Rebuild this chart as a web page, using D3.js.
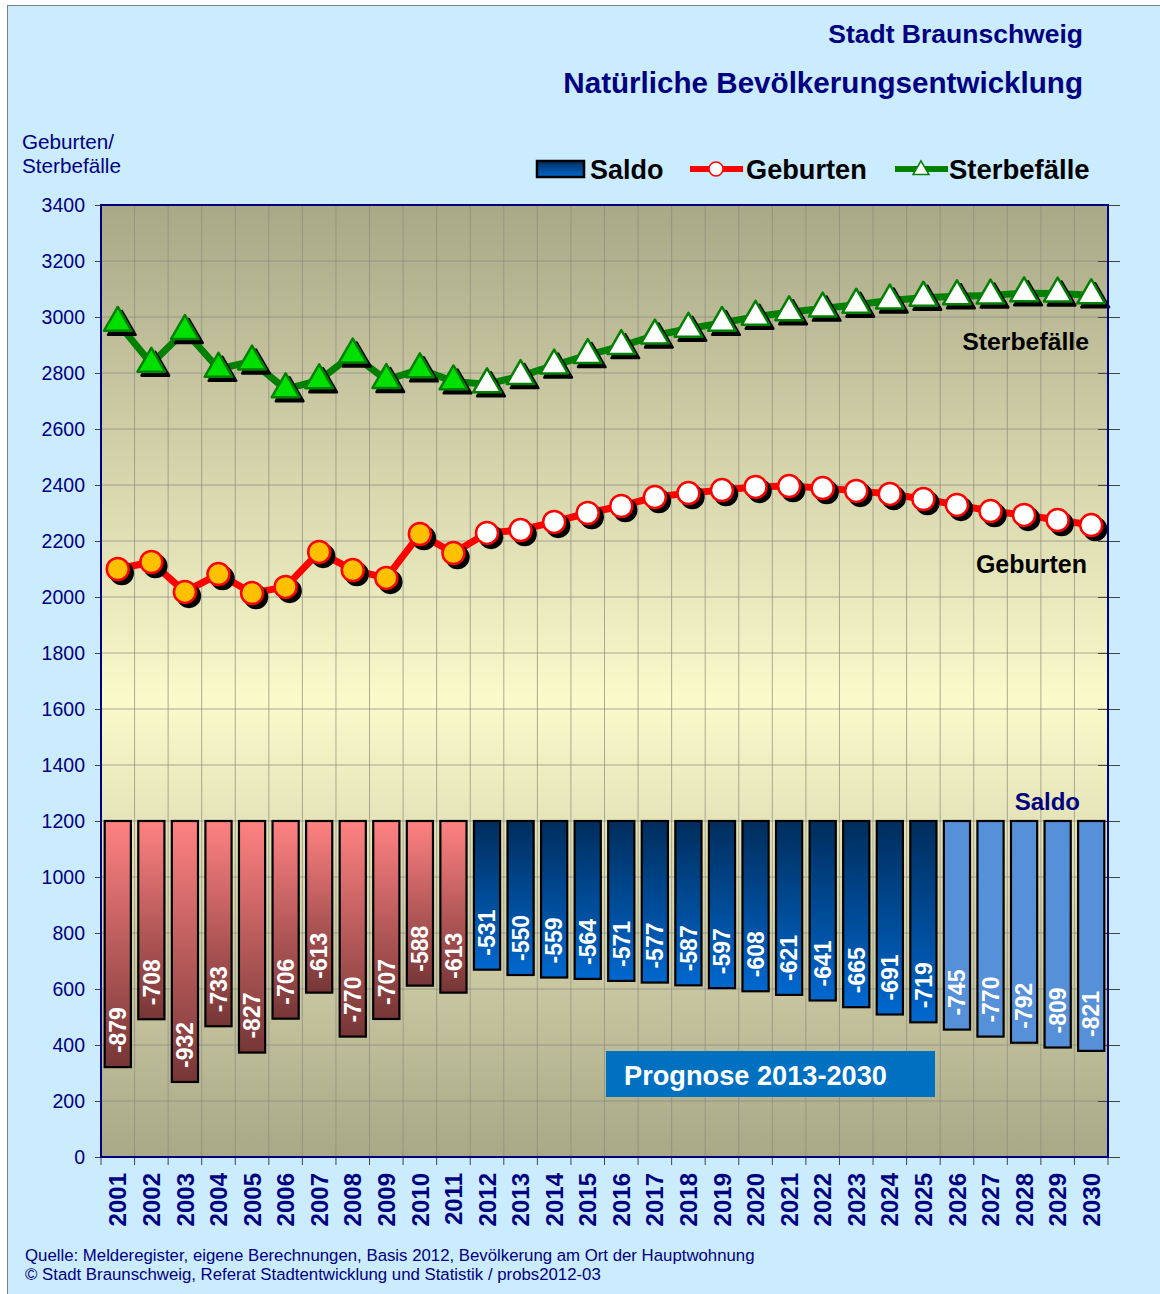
<!DOCTYPE html>
<html>
<head>
<meta charset="utf-8">
<script src="https://cdn.jsdelivr.net/npm/d3@7"></script>
<style>
  body { margin: 0; background: #fff; }
  svg { display: block; font-family: "Liberation Sans", Arial, sans-serif; }
</style>
</head>
<body>
<div id="chart"></div>
<script>
var years = ["2001","2002","2003","2004","2005","2006","2007","2008","2009","2010",
  "2011","2012","2013","2014","2015","2016","2017","2018","2019","2020",
  "2021","2022","2023","2024","2025","2026","2027","2028","2029","2030"];
var saldo = [-879,-708,-932,-733,-827,-706,-613,-770,-707,-588,
  -613,-531,-550,-559,-564,-571,-577,-587,-597,-608,
  -621,-641,-665,-691,-719,-745,-770,-792,-809,-821];
var geburten = [2100,2125,2018,2082,2014,2036,2161,2096,2068,2225,
  2157,2229,2239,2268,2300,2325,2357,2371,2382,2393,
  2396,2389,2379,2368,2350,2329,2307,2293,2275,2257];
var sterbefaelle = [2979,2833,2950,2815,2841,2742,2774,2866,2775,2813,
  2770,2760,2789,2827,2864,2896,2934,2958,2979,3001,
  3017,3030,3044,3059,3069,3074,3077,3085,3084,3078];
var yTicks = [0,200,400,600,800,1000,1200,1400,1600,1800,2000,2200,2400,2600,2800,3000,3200,3400];
var saldoBase = 1200;
var lastActual = "2011";
var lastDarkBlue = "2025";

var W = 1160, H = 1294;
var margin = { top: 205, right: 52, bottom: 137, left: 101 },
    width = W - margin.left - margin.right,
    height = H - margin.top - margin.bottom;
var navy = "#000080";

var root = d3.select("#chart").append("svg")
    .attr("width", W).attr("height", H);

var defs = root.append("defs");
var bg = defs.append("linearGradient").attr("id", "plotbg")
    .attr("x1", 0).attr("y1", 0).attr("x2", 0).attr("y2", 1);
bg.append("stop").attr("offset", "0%").attr("stop-color", "#a9a887");
bg.append("stop").attr("offset", "52%").attr("stop-color", "#fbfacb");
bg.append("stop").attr("offset", "100%").attr("stop-color", "#a9a887");

var gRed = defs.append("linearGradient").attr("id", "barRed")
    .attr("x1", 0).attr("y1", 0).attr("x2", 0).attr("y2", 1);
gRed.append("stop").attr("offset", "0%").attr("stop-color", "#ff8282");
gRed.append("stop").attr("offset", "100%").attr("stop-color", "#763636");

var gBlue = defs.append("linearGradient").attr("id", "barBlue")
    .attr("x1", 0).attr("y1", 0).attr("x2", 0).attr("y2", 1);
gBlue.append("stop").attr("offset", "0%").attr("stop-color", "#002d5c");
gBlue.append("stop").attr("offset", "100%").attr("stop-color", "#0068cf");

// page background + frame
root.append("rect").attr("x", 7.5).attr("y", 5.5).attr("width", W).attr("height", H)
    .attr("fill", "#cbebfe").attr("stroke", "#808080").attr("stroke-width", 1);

// titles
root.append("text").attr("x", 1083).attr("y", 43).attr("text-anchor", "end")
    .attr("font-size", 26.5).attr("font-weight", "bold").attr("fill", navy)
    .text("Stadt Braunschweig");
root.append("text").attr("x", 1083).attr("y", 93).attr("text-anchor", "end")
    .attr("font-size", 29.6).attr("font-weight", "bold").attr("fill", navy)
    .text("Natürliche Bevölkerungsentwicklung");

root.append("text").attr("x", 22).attr("y", 149).attr("font-size", 20.7).attr("fill", navy)
    .text("Geburten/");
root.append("text").attr("x", 22).attr("y", 173).attr("font-size", 20.7).attr("fill", navy)
    .text("Sterbefälle");

var svg = root.append("g")
    .attr("transform", "translate(" + margin.left + "," + margin.top + ")");

var x = d3.scaleBand().domain(years).range([0, width]).paddingInner(0.22).paddingOuter(0.11);
var xb = d3.scaleBand().domain(years).range([0, width]);
var y = d3.scaleLinear().domain([0, 3400]).range([height, 0]);

svg.append("rect").attr("width", width).attr("height", height).attr("fill", "url(#plotbg)");

// grid
svg.append("g").selectAll("line.h").data(yTicks).enter().append("line")
    .attr("x1", 0).attr("x2", width)
    .attr("y1", function (d) { return y(d); }).attr("y2", function (d) { return y(d); })
    .attr("stroke", "#8a8a80").attr("stroke-opacity", 0.7).attr("stroke-width", 1);
svg.append("g").selectAll("line.v").data(years.slice(1)).enter().append("line")
    .attr("x1", function (d) { return xb(d); }).attr("x2", function (d) { return xb(d); })
    .attr("y1", 0).attr("y2", height)
    .attr("stroke", "#8a8a80").attr("stroke-opacity", 0.7).attr("stroke-width", 1);

// axes
var yAxis = svg.append("g").call(d3.axisLeft(y).tickValues(yTicks).tickSize(6).tickPadding(10)
    .tickFormat(d3.format("d")));
yAxis.select(".domain").remove();
yAxis.selectAll("line").attr("stroke", "#444");
yAxis.selectAll("text").attr("font-size", 19.5).attr("fill", navy)
    .attr("font-family", "Liberation Sans, Arial, sans-serif");

var yRight = svg.append("g").attr("transform", "translate(" + width + ",0)")
    .call(d3.axisRight(y).tickValues(yTicks).tickSize(12).tickFormat(""));
yRight.select(".domain").remove();
yRight.selectAll("line").attr("stroke", "#444");
yRight.selectAll("line").attr("x1", -10);

var xAxis = svg.append("g").attr("transform", "translate(0," + height + ")")
    .call(d3.axisBottom(xb).tickSize(0).tickPadding(0));
xAxis.select(".domain").remove();
xAxis.selectAll("text")
    .attr("font-size", 24).attr("font-weight", "bold").attr("fill", navy)
    .attr("font-family", "Liberation Sans, Arial, sans-serif")
    .attr("text-anchor", "end").attr("dy", "0.36em")
    .attr("transform", "translate(0,16) rotate(-90)");
svg.append("g").selectAll("line.xt").data(years.concat(["end"])).enter().append("line")
    .attr("x1", function (d, i) { return xb.step() * i; })
    .attr("x2", function (d, i) { return xb.step() * i; })
    .attr("y1", height).attr("y2", height + 8)
    .attr("stroke", "#444");

// bars
var idxActual = years.indexOf(lastActual), idxDark = years.indexOf(lastDarkBlue);
svg.append("g").selectAll("rect.bar").data(years).enter().append("rect")
    .attr("x", function (d) { return x(d); })
    .attr("y", y(saldoBase))
    .attr("width", x.bandwidth())
    .attr("height", function (d, i) { return y(saldoBase + saldo[i]) - y(saldoBase); })
    .attr("fill", function (d, i) {
      return i <= idxActual ? "url(#barRed)" : (i <= idxDark ? "url(#barBlue)" : "#5690d8");
    })
    .attr("stroke", "#000").attr("stroke-width", 2.2);

svg.append("g").selectAll("text.bl").data(years).enter().append("text")
    .attr("transform", function (d, i) {
      return "translate(" + (x(d) + x.bandwidth() / 2) + "," + (y(saldoBase + saldo[i]) - 14) + ") rotate(-90)";
    })
    .attr("dy", "0.36em")
    .attr("font-size", 23).attr("font-weight", "bold").attr("fill", "#fff")
    .text(function (d, i) { return saldo[i]; });

// lines
var cx = function (d, i) { return xb(years[i]) + xb.bandwidth() / 2; };
var line = d3.line().x(cx).y(function (d) { return y(d); });

svg.append("path").datum(sterbefaelle).attr("d", line)
    .attr("fill", "none").attr("stroke", "#008000").attr("stroke-width", 7)
    .attr("stroke-linejoin", "round");
svg.append("path").datum(geburten).attr("d", line)
    .attr("fill", "none").attr("stroke", "#ff0000").attr("stroke-width", 7)
    .attr("stroke-linejoin", "round");

var tri = d3.symbol().type(d3.symbolTriangle).size(330);

function drawTriangles(shadow) {
  svg.append("g").selectAll("path").data(sterbefaelle).enter().append("path")
    .attr("d", tri)
    .attr("transform", function (d, i) {
      return "translate(" + (cx(d, i) + (shadow ? 4 : 0)) + "," + (y(d) + (shadow ? 4 : 0)) + ")";
    })
    .attr("fill", function (d, i) { return shadow ? "#000" : (i <= idxActual ? "#00e000" : "#fff"); })
    .attr("stroke", shadow ? "#000" : "#008000").attr("stroke-width", 2.5)
    .attr("stroke-linejoin", "round");
}
function drawCircles(shadow) {
  svg.append("g").selectAll("circle").data(geburten).enter().append("circle")
    .attr("cx", function (d, i) { return cx(d, i) + (shadow ? 4 : 0); })
    .attr("cy", function (d) { return y(d) + (shadow ? 4 : 0); })
    .attr("r", 11)
    .attr("fill", function (d, i) { return shadow ? "#000" : (i <= idxActual ? "#ffc000" : "#fff"); })
    .attr("stroke", shadow ? "#000" : "#ff0000").attr("stroke-width", 2.5);
}
drawTriangles(true); drawTriangles(false);
drawCircles(true); drawCircles(false);

// plot frame
svg.append("rect").attr("width", width).attr("height", height)
    .attr("fill", "none").attr("stroke", navy).attr("stroke-width", 2);

// series labels
svg.append("text").attr("x", 1089 - margin.left).attr("y", 350 - margin.top)
    .attr("text-anchor", "end").attr("font-size", 24.8).attr("font-weight", "bold")
    .attr("fill", "#000").text("Sterbefälle");
svg.append("text").attr("x", 1087 - margin.left).attr("y", 573 - margin.top)
    .attr("text-anchor", "end").attr("font-size", 25).attr("font-weight", "bold")
    .attr("fill", "#000").text("Geburten");
svg.append("text").attr("x", 1080 - margin.left).attr("y", 810 - margin.top)
    .attr("text-anchor", "end").attr("font-size", 24).attr("font-weight", "bold")
    .attr("fill", navy).text("Saldo");

// prognose box
svg.append("rect").attr("x", 606 - margin.left).attr("y", 1051 - margin.top)
    .attr("width", 329).attr("height", 46).attr("fill", "#0070c0");
svg.append("text").attr("x", 624 - margin.left).attr("y", 1085 - margin.top)
    .attr("font-size", 27.2).attr("font-weight", "bold").attr("fill", "#fff")
    .text("Prognose 2013-2030");

// legend
var lg = root.append("g");
lg.append("rect").attr("x", 537).attr("y", 161).attr("width", 47).attr("height", 16)
    .attr("fill", "url(#barBlue)").attr("stroke", "#000").attr("stroke-width", 2.5);
lg.append("text").attr("x", 590).attr("y", 179).attr("font-size", 27).attr("font-weight", "bold")
    .text("Saldo");
lg.append("line").attr("x1", 690).attr("x2", 743).attr("y1", 169).attr("y2", 169)
    .attr("stroke", "#ff0000").attr("stroke-width", 6);
lg.append("circle").attr("cx", 716).attr("cy", 169).attr("r", 7)
    .attr("fill", "#fff").attr("stroke", "#ff0000").attr("stroke-width", 1.5);
lg.append("text").attr("x", 746).attr("y", 179).attr("font-size", 27.2).attr("font-weight", "bold")
    .text("Geburten");
lg.append("line").attr("x1", 895).attr("x2", 948).attr("y1", 169).attr("y2", 169)
    .attr("stroke", "#008000").attr("stroke-width", 6);
lg.append("path").attr("d", d3.symbol().type(d3.symbolTriangle).size(110))
    .attr("transform", "translate(921,170)")
    .attr("fill", "#fff").attr("stroke", "#008000").attr("stroke-width", 1.5);
lg.append("text").attr("x", 949).attr("y", 179).attr("font-size", 27.5).attr("font-weight", "bold")
    .text("Sterbefälle");

// footer
root.append("text").attr("x", 25).attr("y", 1261).attr("font-size", 16.8).attr("fill", navy)
    .text("Quelle: Melderegister, eigene Berechnungen, Basis 2012, Bevölkerung am Ort der Hauptwohnung");
root.append("text").attr("x", 25).attr("y", 1280).attr("font-size", 16.8).attr("fill", navy)
    .text("© Stadt Braunschweig, Referat Stadtentwicklung und Statistik / probs2012-03");
</script>
</body>
</html>
